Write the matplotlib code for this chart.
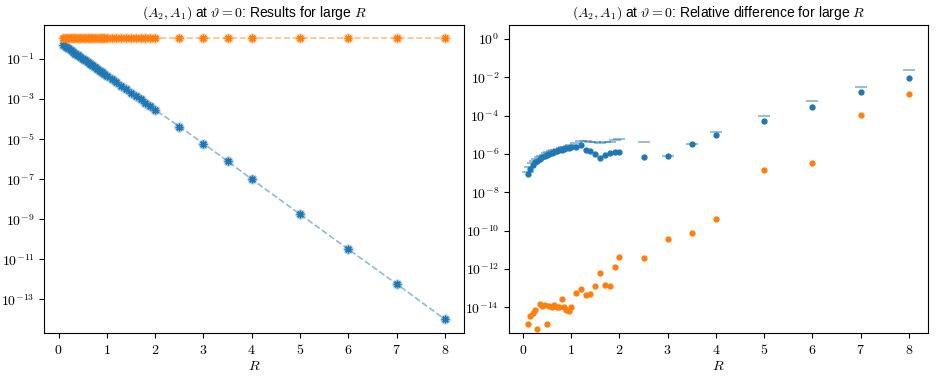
import numpy as np
import matplotlib
matplotlib.use('Agg')
import matplotlib.pyplot as plt
from matplotlib.ticker import FixedLocator, FuncFormatter, NullLocator

plt.rcParams.update({
    'font.family': ['Liberation Sans', 'DejaVu Sans'],
    'mathtext.fontset': 'cm',
    'font.size': 10,
    'axes.titlesize': 10,
    'axes.labelsize': 10,
})

# ─── Data ───
R = [0.1, 0.15, 0.2, 0.25, 0.3, 0.35, 0.4, 0.45, 0.5, 0.55, 0.6, 0.65, 0.7,
     0.75, 0.8, 0.85, 0.9, 0.95, 1.0, 1.1, 1.2, 1.3, 1.4, 1.5, 1.6, 1.7, 1.8,
     1.9, 2.0, 2.5, 3.0, 3.5, 4.0, 5.0, 6.0, 7.0, 8.0]

# left panel: results (log10 of value)
res_blue_log = [-0.30, -0.39, -0.47, -0.56, -0.64, -0.73, -0.81, -0.90, -0.98,
                -1.07, -1.15, -1.24, -1.32, -1.41, -1.49, -1.58, -1.66, -1.75,
                -1.83, -2.00, -2.17, -2.34, -2.51, -2.68, -2.85, -3.02, -3.19,
                -3.36, -3.53, -4.37, -5.22, -6.10, -7.00, -8.75, -10.50,
                -12.23, -14.00]
res_orange_log = [0.05, 0.05, 0.05, 0.05, 0.05, 0.05, 0.05, 0.05, 0.05, 0.05,
                  0.05, 0.05, 0.05, 0.05, 0.05, 0.05, 0.05, 0.05, 0.05, 0.05,
                  0.05, 0.05, 0.05, 0.05, 0.05, 0.05, 0.05, 0.05, 0.05, 0.05,
                  0.05, 0.05, 0.05, 0.05, 0.05, 0.05, 0.05]

# right panel: relative differences (log10 of value)
rel_blue_log = [-7.04, -6.78, -6.58, -6.44, -6.34, -6.26, -6.18, -6.11, -6.05,
                -5.99, -5.94, -5.89, -5.85, -5.81, -5.77, -5.74, -5.71, -5.68,
                -5.66, -5.62, -5.55, -5.79, -5.84, -6.00, -6.19, -6.07, -5.95,
                -5.88, -5.88, -6.16, -6.12, -5.48, -5.03, -4.28, -3.55, -2.76,
                -2.02]
rel_bound_log = [-6.92, -6.68, -6.49, -6.36, -6.26, -6.18, -6.10, -6.03, -5.97,
                 -5.91, -5.86, -5.81, -5.77, -5.73, -5.69, -5.65, -5.61, -5.57,
                 -5.53, -5.45, -5.33, -5.32, -5.36, -5.40, -5.42, -5.40, -5.35,
                 -5.28, -5.23, -5.36, -6.12, -5.48, -4.83, -4.00, -3.22, -2.49,
                 -1.63]
rel_orange_log = [-14.88, -14.45, -14.31, -14.12, -15.13, -13.81, -13.95,
                  -13.88, -14.85, -13.93, -14.00, -13.86, -14.00, -14.00,
                  -13.55, -14.00, -14.12, -14.19, -13.98, -13.27, -13.06,
                  -13.35, -13.30, -12.88, -12.19, -12.83, -12.88, -11.91,
                  -11.35, -11.42, -10.42, -10.14, -9.39, -6.85, -6.49, -3.98,
                  -2.89]

R = np.array(R)
C0, C1 = '#1f77b4', '#ff7f0e'
star = (8, 2, 0)

fig = plt.figure(figsize=(9.38, 3.76), dpi=100)
ax1 = fig.add_axes([0.0472, 0.1144, 0.4475, 0.8191])
ax2 = fig.add_axes([0.5423, 0.1144, 0.4470, 0.8191])

pow_fmt = FuncFormatter(lambda v, p: r'$10^{%d}$' % round(np.log10(v)))
lin_fmt = FuncFormatter(lambda v, p: r'$%d$' % round(v))

# ── Left panel ──
for vals, c in [(res_blue_log, C0), (res_orange_log, C1)]:
    y = 10.0 ** np.array(vals)
    ax1.plot(R, y, '--', color=c, alpha=0.5, lw=1.2)
    ax1.plot(R, y, ls='', marker=star, color=c, alpha=0.3, ms=7, mew=2.0)
    ax1.plot(R, y, ls='', marker=star, color=c, ms=5.5, mew=1.0)
ax1.set_yscale('log')
ax1.set_ylim(10 ** -14.68, 10 ** 0.7)
ax1.set_xlim(-0.295, 8.395)
ax1.yaxis.set_major_locator(FixedLocator([10.0 ** k for k in range(-13, 0, 2)]))
ax1.set_title(r'$(A_2, A_1)$ at $\vartheta = 0$: Results for large $R$')

# ── Right panel ──
ax2.plot(R, 10.0 ** np.array(rel_bound_log), ls='', marker='_', color=C0,
         alpha=0.55, ms=8, mew=1.2)
ax2.plot(R, 10.0 ** np.array(rel_blue_log), ls='', marker='o', color=C0, ms=3.5)
ax2.plot(R, 10.0 ** np.array(rel_orange_log), ls='', marker='o', color=C1, ms=3.5)
ax2.set_yscale('log')
ax2.set_ylim(10 ** -15.34, 10 ** 0.73)
ax2.set_xlim(-0.295, 8.395)
ax2.yaxis.set_major_locator(FixedLocator([10.0 ** k for k in range(-14, 1, 2)]))
ax2.set_title(r'$(A_2, A_1)$ at $\vartheta = 0$: Relative difference for large $R$')

for ax in (ax1, ax2):
    ax.yaxis.set_minor_locator(NullLocator())
    ax.yaxis.set_major_formatter(pow_fmt)
    ax.xaxis.set_major_locator(FixedLocator(range(0, 9)))
    ax.xaxis.set_major_formatter(lin_fmt)
    ax.set_xlabel(r'$R$', labelpad=2)

fig.savefig('out.png', dpi=100)
